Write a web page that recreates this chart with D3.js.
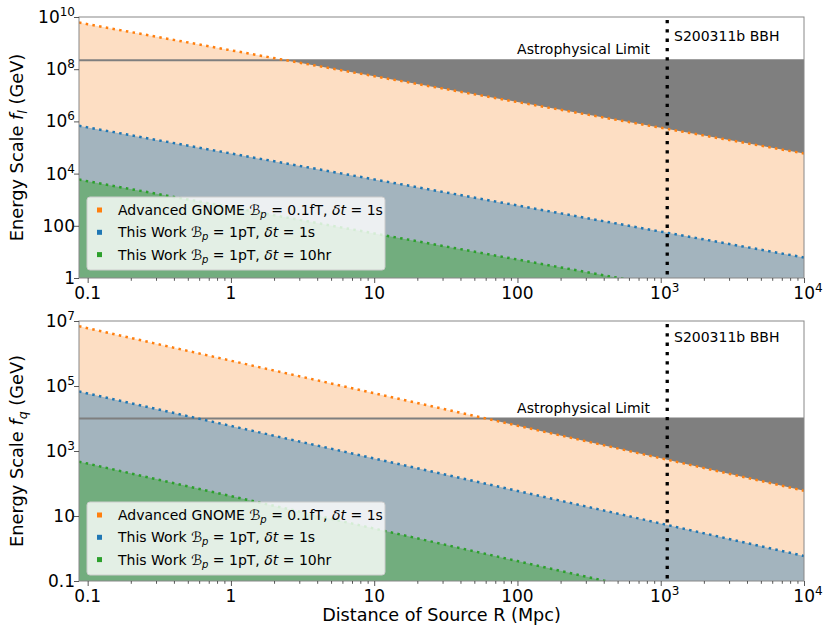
<!DOCTYPE html>
<html><head><meta charset="utf-8">
<script src="https://cdn.jsdelivr.net/npm/d3@7"></script>
<style>body{margin:0;background:#fff}svg{display:block}text{font-family:"DejaVu Sans",sans-serif}</style>
</head><body>
<svg id="chart" width="830" height="639"></svg>
<script>
// ---- data ----
const distances = [0.087, 0.1, 1, 10, 100, 1000, 10000];           // Mpc
const xTickValues = [0.1, 1, 10, 100, 1000, 10000];
const xTickLabels = [["0.1"], ["1"], ["10"], ["100"], ["10", "3"], ["10", "4"]];

const topGnome = [6.1e9, 5.3e9, 5.3e8, 5.4e7, 5.5e6, 5.7e5, 5.9e4];
const topWork1s = [6.8e5, 5.9e5, 5.9e4, 6.0e3, 6.0e2, 60, 6.1];
const topWork10hr = [5.9e3, 5.1e3, 5.1e2, 51, 5.1, 0.51, 0.051];
const topLimit = 2.2e8;
const topYTicks = [1, 100, 1e4, 1e6, 1e8, 1e10];
const topYLabels = [["1"], ["100"], ["10", "4"], ["10", "6"], ["10", "8"], ["10", "10"]];

const botGnome = [6.9e6, 6.0e6, 6.0e5, 6.0e4, 6.0e3, 6.0e2, 60];
const botWork1s = [6.8e4, 5.9e4, 5.9e3, 5.9e2, 59, 5.9, 0.59];
const botWork10hr = [470, 410, 41, 4.1, 0.41, 0.041, 0.0041];
const botLimit = 1e4;
const botYTicks = [0.1, 10, 1e3, 1e5, 1e7];
const botYLabels = [["0.1"], ["10"], ["10", "3"], ["10", "5"], ["10", "7"]];

const eventDistance = 1110;
const eventLabel = "S200311b BBH";
const limitLabel = "Astrophysical Limit";
const legendItems = [
  {key: "gnome", name: "Advanced GNOME ", B: "0.1fT", dt: "1s"},
  {key: "w1s", name: "This Work ", B: "1pT", dt: "1s"},
  {key: "w10", name: "This Work ", B: "1pT", dt: "10hr"}
];

// ---- styles ----
const lineCol = {gnome: "#ff7f0e", w1s: "#1f77b4", w10: "#2ca02c"};
const fillCol = {gnome: "#fddec3", w1s: "#a3b4be", w10: "#72ad7e"};
const limitCol = "#7f7f7f";
const spineCol = "#888";

const svg = d3.select("#chart");
const L = 79, R = 804;
const x = d3.scaleLog().domain([0.087, 1e4]).range([L, R]);

function addSupText(sel, parts, supSize, supDy) {
  sel.append("tspan").text(parts[0]);
  if (parts[1]) sel.append("tspan").attr("font-size", supSize).attr("dy", supDy).text(parts[1]);
}

function panel(cfg) {
  const y = d3.scaleLog().domain(cfg.yDomain).range([cfg.bottom, cfg.top]);
  const g = svg.append("g");
  const cid = "clip" + cfg.id;
  svg.append("defs").append("clipPath").attr("id", cid)
    .append("rect").attr("x", L).attr("y", cfg.top).attr("width", R - L).attr("height", cfg.bottom - cfg.top);
  const pg = g.append("g").attr("clip-path", `url(#${cid})`);

  // dark gray region under the astrophysical limit
  pg.append("rect").attr("x", L).attr("width", R - L)
    .attr("y", y(cfg.limit)).attr("height", cfg.bottom - y(cfg.limit)).attr("fill", limitCol);

  const series = [["gnome", cfg.gnome], ["w1s", cfg.w1s], ["w10", cfg.w10]];
  series.forEach(([k, vals]) => {
    const pts = distances.map((d, i) => [d, vals[i]]);
    const area = d3.area().x(d => x(d[0])).y0(cfg.bottom + 5).y1(d => y(d[1]));
    pg.append("path").datum(pts).attr("d", area).attr("fill", fillCol[k]);
  });
  // limit line
  pg.append("line").attr("x1", L).attr("x2", R).attr("y1", y(cfg.limit)).attr("y2", y(cfg.limit))
    .attr("stroke", limitCol).attr("stroke-width", 2.2);
  series.forEach(([k, vals]) => {
    const pts = distances.map((d, i) => [d, vals[i]]);
    const line = d3.line().x(d => x(d[0])).y(d => y(d[1]));
    pg.append("path").datum(pts).attr("d", line).attr("fill", "none")
      .attr("stroke", lineCol[k]).attr("stroke-width", 2.5).attr("stroke-dasharray", "2.5,4.3");
  });
  // event line
  pg.append("line").attr("x1", x(eventDistance)).attr("x2", x(eventDistance))
    .attr("y1", cfg.top + 3).attr("y2", cfg.bottom)
    .attr("stroke", "#000").attr("stroke-width", 3.3).attr("stroke-dasharray", "3.3,6");

  // texts
  g.append("text").attr("x", 650).attr("y", cfg.limitTextY).attr("text-anchor", "end")
    .attr("font-size", 14).text(limitLabel);
  g.append("text").attr("x", 674).attr("y", cfg.eventTextY).attr("font-size", 14).text(eventLabel);

  // legend
  const lg = g.append("g").attr("transform", `translate(87,${cfg.legendTop})`);
  lg.append("rect").attr("width", 298).attr("height", 73).attr("rx", 3)
    .attr("fill", "#fff").attr("fill-opacity", 0.8).attr("stroke", "#ccc").attr("stroke-width", 1);
  legendItems.forEach((it, i) => {
    const cy = 13 + i * 22.3;
    lg.append("rect").attr("x", 10).attr("y", cy - 2.5).attr("width", 5).attr("height", 5).attr("fill", lineCol[it.key]);
    const t = lg.append("text").attr("x", 31).attr("y", cy + 5).attr("font-size", 14);
    t.append("tspan").text(it.name);
    t.append("tspan").attr("font-style", "italic").text("\u212C");
    t.append("tspan").attr("font-style", "italic").attr("font-size", 10).attr("dy", 3).text("p");
    t.append("tspan").attr("dy", -3).text(" = " + it.B + ", ");
    t.append("tspan").attr("font-style", "italic").text("\u03B4t");
    t.append("tspan").text(" = " + it.dt);
  });

  // spines
  g.append("rect").attr("x", L).attr("y", cfg.top).attr("width", R - L).attr("height", cfg.bottom - cfg.top)
    .attr("fill", "none").attr("stroke", spineCol).attr("stroke-width", 1);

  // x axis
  const xa = g.append("g").attr("transform", `translate(0,${cfg.bottom})`)
    .call(d3.axisBottom(x).tickValues(xTickValues).tickSize(5).tickFormat(""));
  const minors = [];
  [0.1, 1, 10, 100, 1000].forEach(b => { for (let m = 2; m <= 9; m++) minors.push(b * m); });
  const xm = g.append("g").attr("transform", `translate(0,${cfg.bottom})`)
    .call(d3.axisBottom(x).tickValues(minors).tickSize(2.8).tickFormat(""));
  [xa, xm].forEach(a => { a.select(".domain").remove(); a.selectAll("line").attr("stroke", "#444").attr("stroke-width", 0.9); });
  xTickValues.forEach((v, i) => {
    const t = g.append("text").attr("x", x(v) + (xTickLabels[i][1] ? 4 : 0)).attr("y", cfg.bottom + 20.5)
      .attr("text-anchor", "middle").attr("font-size", 17);
    addSupText(t, xTickLabels[i], 12, -7);
  });

  // y axis
  const ya = g.append("g").attr("transform", `translate(${L},0)`)
    .call(d3.axisLeft(y).tickValues(cfg.yTicks).tickSize(5).tickFormat(""));
  ya.select(".domain").remove();
  ya.selectAll("line").attr("stroke", "#444").attr("stroke-width", 0.9);
  cfg.yTicks.forEach((v, i) => {
    const t = g.append("text").attr("x", L - 4).attr("y", y(v) + 6)
      .attr("text-anchor", "end").attr("font-size", 17);
    if (cfg.yLabels[i][1]) {
      t.append("tspan").text(cfg.yLabels[i][0]);
      t.append("tspan").attr("font-size", 12).attr("dy", -7).text(cfg.yLabels[i][1]);
    } else t.text(cfg.yLabels[i][0]);
  });
  const yl = g.append("text").attr("transform", `translate(23,${(cfg.top + cfg.bottom) / 2}) rotate(-90)`)
    .attr("text-anchor", "middle").attr("font-size", 17.8);
  yl.append("tspan").text("Energy Scale ");
  yl.append("tspan").attr("font-style", "italic").text("f");
  yl.append("tspan").attr("font-style", "italic").attr("font-size", 12.5).attr("dy", 4).text(cfg.sub);
  yl.append("tspan").attr("dy", -4).text(" (GeV)");
}

panel({id: "a", top: 17, bottom: 278, yDomain: [1, 1e10], gnome: topGnome, w1s: topWork1s, w10: topWork10hr,
  limit: topLimit, yTicks: topYTicks, yLabels: topYLabels, limitTextY: 54, eventTextY: 41, legendTop: 197, sub: "l"});
panel({id: "b", top: 321, bottom: 581, yDomain: [0.1, 1e7], gnome: botGnome, w1s: botWork1s, w10: botWork10hr,
  limit: botLimit, yTicks: botYTicks, yLabels: botYLabels, limitTextY: 413, eventTextY: 342, legendTop: 502, sub: "q"});

svg.append("text").attr("x", (L + R) / 2).attr("y", 621).attr("text-anchor", "middle").attr("font-size", 17.6)
  .text("Distance of Source R (Mpc)");
</script>
</body></html>
